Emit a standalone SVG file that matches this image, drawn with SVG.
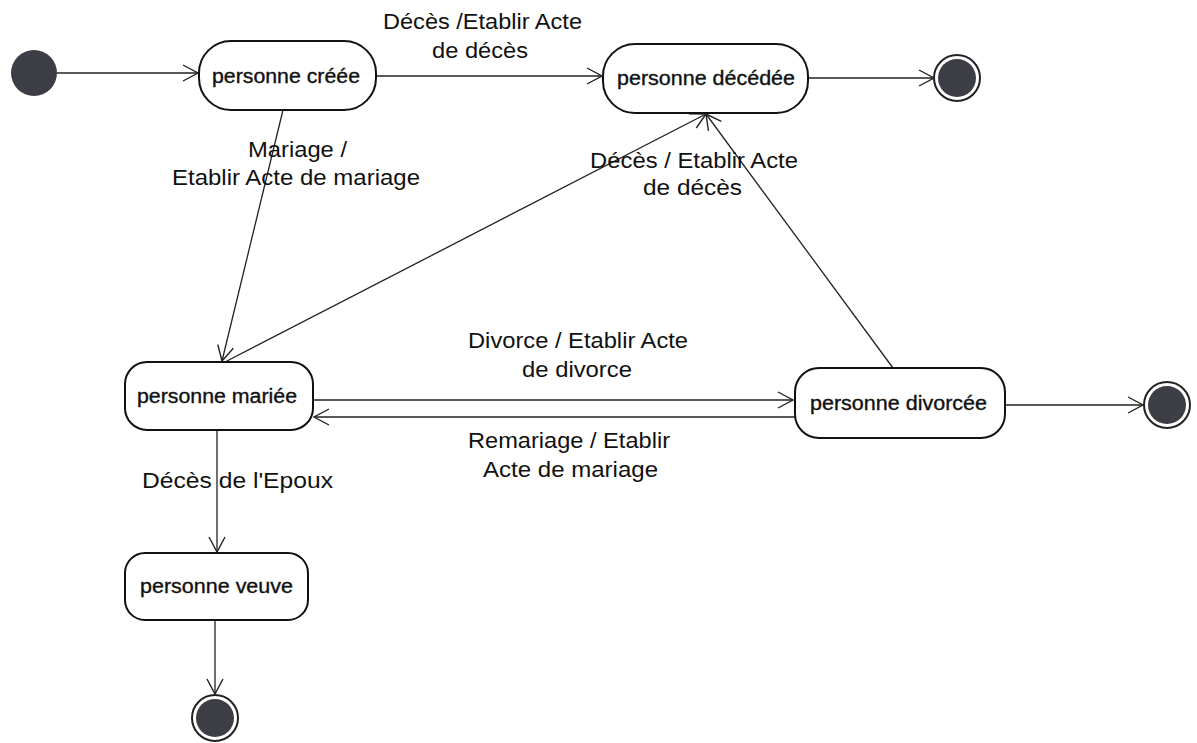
<svg xmlns="http://www.w3.org/2000/svg" width="1197" height="743" viewBox="0 0 1197 743">
<style>
.st{fill:#fff;stroke:#111;stroke-width:2}
.nt{font-family:"Liberation Sans",Arial,sans-serif;font-size:20px;fill:#111;stroke:#111;stroke-width:0.35}
.lb{font-family:"Liberation Sans",Arial,sans-serif;font-size:22px;fill:#111}
.c{fill:none;stroke:#222;stroke-width:1.3;marker-end:url(#ah)}
.dot{fill:#3d3d45}
.ring{fill:#fff;stroke:#222;stroke-width:2}
</style>
<defs>
<marker id="ah" markerUnits="userSpaceOnUse" markerWidth="20" markerHeight="20" refX="16" refY="9" orient="auto">
<path d="M1,1 L16,9 L1,17" fill="none" stroke="#222" stroke-width="1.4"/>
</marker>
</defs>
<rect width="1197" height="743" fill="#fff"/>
<g id="connectors">
<line class="c" x1="57" y1="73" x2="198" y2="73"/>
<line class="c" x1="376" y1="76" x2="602" y2="76"/>
<line class="c" x1="808" y1="78" x2="934" y2="78"/>
<line class="c" x1="283" y1="110" x2="222" y2="361"/>
<line class="c" x1="225" y1="362" x2="706" y2="114"/>
<line class="c" x1="893" y1="368" x2="706" y2="114"/>
<line class="c" x1="313" y1="400" x2="793" y2="400"/>
<line class="c" x1="795" y1="417" x2="314" y2="417"/>
<line class="c" x1="217" y1="430" x2="217" y2="552"/>
<line class="c" x1="215" y1="620" x2="215" y2="694"/>
<line class="c" x1="1005" y1="405" x2="1143" y2="405"/>
</g>
<g id="labels">
<text class="lb" x="383" y="29" textLength="199" lengthAdjust="spacingAndGlyphs">Décès /Etablir Acte</text>
<text class="lb" x="432" y="58" textLength="96" lengthAdjust="spacingAndGlyphs">de décès</text>
<text class="lb" x="248" y="157" textLength="99" lengthAdjust="spacingAndGlyphs">Mariage /</text>
<text class="lb" x="172" y="185" textLength="248" lengthAdjust="spacingAndGlyphs">Etablir Acte de mariage</text>
<text class="lb" x="590" y="168" textLength="208" lengthAdjust="spacingAndGlyphs">Décès / Etablir Acte</text>
<text class="lb" x="643" y="195" textLength="99" lengthAdjust="spacingAndGlyphs">de décès</text>
<text class="lb" x="468" y="348" textLength="220" lengthAdjust="spacingAndGlyphs">Divorce / Etablir Acte</text>
<text class="lb" x="522" y="377" textLength="110" lengthAdjust="spacingAndGlyphs">de divorce</text>
<text class="lb" x="468" y="448" textLength="202" lengthAdjust="spacingAndGlyphs">Remariage / Etablir</text>
<text class="lb" x="483" y="477" textLength="175" lengthAdjust="spacingAndGlyphs">Acte de mariage</text>
<text class="lb" x="142" y="488" textLength="191" lengthAdjust="spacingAndGlyphs">Décès de l'Epoux</text>
</g>
<g id="initial">
<circle class="dot" cx="34" cy="73" r="23"/>
</g>
<g id="personne-creee">
<rect class="st" x="199" y="41" width="177" height="69" rx="32"/>
<text class="nt" x="212" y="83" textLength="148" lengthAdjust="spacingAndGlyphs">personne créée</text>
</g>
<g id="personne-decedee">
<rect class="st" x="603" y="44" width="205" height="69" rx="32"/>
<text class="nt" x="617" y="85" textLength="178" lengthAdjust="spacingAndGlyphs">personne décédée</text>
</g>
<g id="final-top">
<circle class="ring" cx="957" cy="78" r="23"/>
<circle class="dot" cx="957" cy="78" r="19"/>
</g>
<g id="personne-mariee">
<rect class="st" x="125" y="362" width="188" height="68" rx="22"/>
<text class="nt" x="137" y="403" textLength="160" lengthAdjust="spacingAndGlyphs">personne mariée</text>
</g>
<g id="personne-divorcee">
<rect class="st" x="795" y="368" width="210" height="70" rx="24"/>
<text class="nt" x="810" y="410" textLength="177" lengthAdjust="spacingAndGlyphs">personne divorcée</text>
</g>
<g id="final-right">
<circle class="ring" cx="1167" cy="405" r="23"/>
<circle class="dot" cx="1167" cy="405" r="19"/>
</g>
<g id="personne-veuve">
<rect class="st" x="125" y="553" width="183" height="67" rx="20"/>
<text class="nt" x="140" y="593" textLength="153" lengthAdjust="spacingAndGlyphs">personne veuve</text>
</g>
<g id="final-bottom">
<circle class="ring" cx="215" cy="718" r="23"/>
<circle class="dot" cx="215" cy="718" r="19"/>
</g>
</svg>
